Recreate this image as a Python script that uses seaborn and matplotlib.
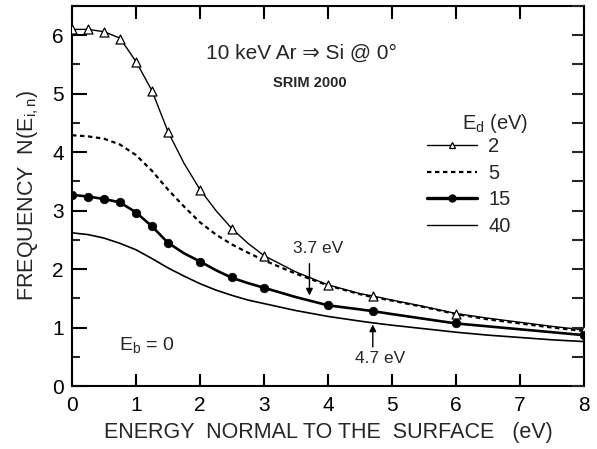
import matplotlib
matplotlib.use("Agg")
import matplotlib.pyplot as plt
from matplotlib.lines import Line2D
from matplotlib.ticker import MultipleLocator, FixedLocator
import seaborn as sns

# ---- data ----
x_line = [0, 0.25, 0.5, 0.75, 1, 1.25, 1.5, 1.75, 2, 2.25, 2.5, 2.75, 3, 3.5, 4, 4.5, 4.7, 5, 5.5, 6, 6.5, 7, 7.5, 8]
ed2_line = [6.10, 6.10, 6.06, 5.95, 5.55, 5.05, 4.35, 3.81, 3.36, 3.00, 2.69, 2.44, 2.23, 1.95, 1.73, 1.58, 1.54, 1.47, 1.36, 1.24, 1.16, 1.09, 1.02, 0.96]
ed5_line = [4.29, 4.27, 4.23, 4.13, 3.95, 3.68, 3.36, 3.07, 2.80, 2.59, 2.42, 2.28, 2.15, 1.92, 1.72, 1.57, 1.52, 1.46, 1.35, 1.23, 1.14, 1.07, 1.00, 0.94]
ed15_line = [3.27, 3.24, 3.20, 3.14, 2.97, 2.73, 2.45, 2.27, 2.13, 1.98, 1.85, 1.76, 1.68, 1.52, 1.38, 1.31, 1.28, 1.23, 1.15, 1.07, 1.02, 0.97, 0.92, 0.87]
ed40_line = [2.62, 2.59, 2.53, 2.44, 2.33, 2.18, 2.02, 1.88, 1.75, 1.64, 1.55, 1.47, 1.41, 1.29, 1.19, 1.11, 1.08, 1.04, 0.98, 0.92, 0.87, 0.83, 0.79, 0.76]

x_mark = [0, 0.25, 0.5, 0.75, 1, 1.25, 1.5, 2, 2.5, 3, 4, 4.7, 6, 8]
ed2_mark = [6.11, 6.11, 6.06, 5.94, 5.55, 5.05, 4.34, 3.36, 2.69, 2.23, 1.73, 1.54, 1.24, 0.96]
ed15_mark = [3.27, 3.23, 3.20, 3.15, 2.96, 2.73, 2.45, 2.12, 1.86, 1.68, 1.38, 1.28, 1.07, 0.87]

legend_labels = ["2", "5", "15", "40"]
x_ticks = [0, 1, 2, 3, 4, 5, 6, 7, 8]
y_ticks = [0, 1, 2, 3, 4, 5, 6]

sns.set_style("white")
plt.rcParams["font.family"] = ["Liberation Sans", "DejaVu Sans"]
plt.rcParams["mathtext.fontset"] = "custom"
plt.rcParams["mathtext.rm"] = "Liberation Sans"
plt.rcParams["mathtext.it"] = "Liberation Sans"

fig = plt.figure(figsize=(5.97, 4.49), dpi=100)
ax = fig.add_axes([72 / 597, 63 / 449, 512 / 597, 380 / 449])

k = "black"
sns.lineplot(x=x_line, y=ed2_line, ax=ax, color=k, lw=1.0, sort=False)
sns.lineplot(x=x_line, y=ed5_line, ax=ax, color=k, lw=1.6, ls=(0, (2, 1.6)), sort=False)
sns.lineplot(x=x_line, y=ed15_line, ax=ax, color=k, lw=1.9, sort=False)
sns.lineplot(x=x_line, y=ed40_line, ax=ax, color=k, lw=1.2, sort=False)
sns.scatterplot(x=x_mark, y=ed2_mark, ax=ax, marker="^", s=42, facecolor="white",
                edgecolor=k, linewidth=0.9, zorder=5)
sns.scatterplot(x=x_mark, y=ed15_mark, ax=ax, marker="o", s=38, color=k,
                edgecolor=k, linewidth=0.5, zorder=5)

ax.set_xlim(0, 8)
ax.set_ylim(0, 6.5)
ax.xaxis.set_major_locator(FixedLocator(x_ticks))
ax.yaxis.set_major_locator(FixedLocator(y_ticks))
ax.yaxis.set_minor_locator(MultipleLocator(0.5))

for s in ax.spines.values():
    s.set_linewidth(1.5)
    s.set_color(k)

ax.tick_params(axis="x", which="major", direction="in", length=9, width=1.5,
               top=True, bottom=True, labelsize=15, pad=7, colors=k)
ax.tick_params(axis="y", which="major", direction="in", length=10.5, width=1.5,
               left=True, right=False, labelsize=15, pad=6, colors=k)
ax.tick_params(axis="y", which="minor", direction="in", length=5.8, width=1.5,
               left=True, right=False)

ax2 = ax.twinx()
ax2.set_ylim(0, 6.5)
ax2.yaxis.set_major_locator(MultipleLocator(0.5))
ax2.tick_params(axis="y", direction="in", length=8.6, width=1.5, labelright=False, right=True)
for s in ax2.spines.values():
    s.set_visible(False)

ax.set_xlabel("ENERGY  NORMAL TO THE  SURFACE   (eV)", fontsize=15.5, labelpad=5)
ax.set_ylabel(r"FREQUENCY  N(E$_{i,n}$)", fontsize=15.5, labelpad=8)

ax.text(3.59, 5.70, "10 keV Ar \u21d2 Si @ 0\u00b0", fontsize=15, ha="center", va="center")
ax.text(3.72, 5.19, "SRIM 2000", fontsize=10.5, fontweight="bold", ha="center", va="center")
ax.text(1.17, 0.70, r"E$_\mathrm{b}$ = 0", fontsize=14, ha="center", va="center")

ax.annotate("", xy=(3.71, 1.50), xytext=(3.71, 2.14),
            arrowprops=dict(arrowstyle="-|>", color=k, lw=1.0, mutation_scale=10))
ax.text(3.84, 2.36, "3.7 eV", fontsize=12.5, ha="center", va="center")
ax.annotate("", xy=(4.7, 1.10), xytext=(4.7, 0.62),
            arrowprops=dict(arrowstyle="-|>", color=k, lw=1.0, mutation_scale=10))
ax.text(4.81, 0.47, "4.7 eV", fontsize=12.5, ha="center", va="center")

ax.text(6.61, 4.49, r"E$_\mathrm{d}$ (eV)", fontsize=14.5, ha="center", va="center")
handles = [
    Line2D([], [], color=k, lw=1.0, marker="^", markersize=5, markerfacecolor="white",
           markeredgecolor=k, markeredgewidth=0.9),
    Line2D([], [], color=k, lw=1.6, ls=(0, (2, 1.6))),
    Line2D([], [], color=k, lw=2.4, marker="o", markersize=5),
    Line2D([], [], color=k, lw=1.0),
]
leg = ax.legend(handles, legend_labels, frameon=False,
                fontsize=14.5, numpoints=1, handlelength=2.5,
                handletextpad=0.55, labelspacing=0.38, loc="upper left",
                bbox_to_anchor=(0.658, 0.7026))

fig.savefig("out.png", dpi=100)
